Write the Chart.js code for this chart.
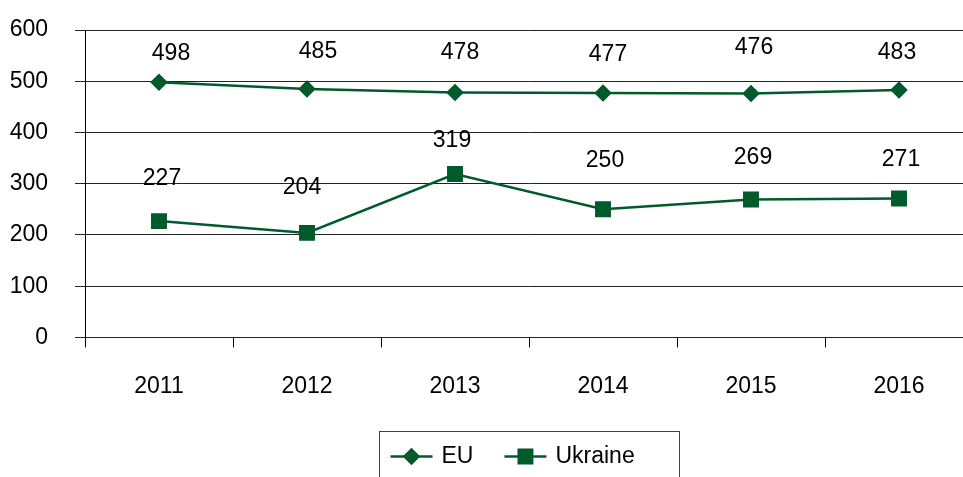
<!DOCTYPE html>
<html>
<head>
<meta charset="utf-8">
<script src="https://cdn.jsdelivr.net/npm/chart.js@4/dist/chart.umd.min.js"></script>
<style>
  html, body { margin: 0; padding: 0; background: #fff; overflow: hidden; }
  #chartBox { width: 963px; height: 477px; overflow: hidden; }
</style>
</head>
<body>
<div id="chartBox">
  <canvas id="lineChart" width="990" height="477"></canvas>
</div>
<script>
const years = ['2011', '2012', '2013', '2014', '2015', '2016'];
const euValues = [498, 485, 478, 477, 476, 483];
const ukraineValues = [227, 204, 319, 250, 269, 271];
const yTicks = [0, 100, 200, 300, 400, 500, 600];

// hand-placed data labels in the original, nudges in px (x, lift above point)
const euLabelNudge = [[12, 29], [11, 37], [5, 40], [5, 38], [3, 46], [-2, 37]];
const ukraineLabelNudge = [[3, 42], [-5, 45], [-3, 33], [2, 49], [2, 42], [2, 39]];

const GREEN = '#005a2b';
const FONT = "'Liberation Sans', Arial, sans-serif";
const FONT_SIZE = 23;

const valueLabels = {
  id: 'valueLabels',
  afterDatasetsDraw(chart) {
    const ctx = chart.ctx;
    ctx.save();
    ctx.font = FONT_SIZE + 'px ' + FONT;
    ctx.fillStyle = '#000';
    ctx.textAlign = 'center';
    ctx.textBaseline = 'middle';
    chart.data.datasets.forEach((ds, i) => {
      const meta = chart.getDatasetMeta(i);
      meta.data.forEach((pt, j) => {
        const [dx, lift] = ds.labelNudge[j];
        ctx.fillText(String(ds.data[j]), pt.x + dx, pt.y - lift);
      });
    });
    ctx.restore();
  }
};

// excel style legend: bordered box under the plot, line + marker samples
const boxedLegend = {
  id: 'boxedLegend',
  afterDraw(chart) {
    const ctx = chart.ctx;
    const area = chart.chartArea;
    const boxW = 300;
    const left = Math.round((area.left + area.right) / 2 - boxW / 2) + 0.5;
    const top = chart.height - 45.5;
    ctx.save();
    ctx.strokeStyle = '#404040';
    ctx.lineWidth = 1;
    ctx.strokeRect(left, top, boxW, 60);

    ctx.font = FONT_SIZE + 'px ' + FONT;
    ctx.textBaseline = 'middle';
    const cy = top + 25;
    let x = left + 11;
    chart.data.datasets.forEach(ds => {
      ctx.strokeStyle = ds.borderColor;
      ctx.lineWidth = ds.borderWidth;
      ctx.beginPath();
      ctx.moveTo(x, cy);
      ctx.lineTo(x + 42, cy);
      ctx.stroke();
      Chart.helpers.drawPoint(ctx, {
        pointStyle: ds.pointStyle,
        radius: ds.pointRadius,
        borderWidth: 1
      }, x + 21, cy);
      ctx.fillStyle = ds.pointBackgroundColor;
      ctx.fill();
      ctx.fillStyle = '#000';
      ctx.textAlign = 'left';
      ctx.fillText(ds.label, x + 51, cy);
      x += 51 + ctx.measureText(ds.label).width + 31;
    });
    ctx.restore();
  }
};

const datasetBase = {
  borderColor: GREEN,
  backgroundColor: GREEN,
  pointBackgroundColor: GREEN,
  pointBorderColor: GREEN,
  borderWidth: 2.5,
  tension: 0,
  fill: false
};

new Chart(document.querySelector('#lineChart'), {
  type: 'line',
  data: {
    labels: years,
    datasets: [
      Object.assign({}, datasetBase, {
        label: 'EU',
        data: euValues,
        pointStyle: 'rectRot',
        pointRadius: 7,
        pointHoverRadius: 7,
        labelNudge: euLabelNudge
      }),
      Object.assign({}, datasetBase, {
        label: 'Ukraine',
        data: ukraineValues,
        pointStyle: 'rect',
        pointRadius: 9.5,
        pointHoverRadius: 9.5,
        labelNudge: ukraineLabelNudge
      })
    ]
  },
  options: {
    responsive: false,
    animation: false,
    layout: { padding: { top: 30, left: 0, right: 17, bottom: 52 } },
    plugins: {
      legend: { display: false },
      tooltip: { enabled: false }
    },
    scales: {
      x: {
        offset: true,
        grid: {
          offset: true,
          drawOnChartArea: false,
          color: '#000',
          tickLength: 10
        },
        border: { display: false },
        ticks: {
          color: '#000',
          padding: 25,
          font: { family: FONT, size: FONT_SIZE }
        }
      },
      y: {
        min: 0,
        max: 600,
        afterBuildTicks(axis) {
          axis.ticks = yTicks.map(v => ({ value: v }));
        },
        afterFit(axis) {
          axis.width = 85;
          axis.paddingTop = 14;
          axis.paddingBottom = 14;
        },
        grid: {
          color: '#222',
          lineWidth: 1,
          tickLength: 10
        },
        border: { display: true, color: '#000', width: 1 },
        ticks: {
          color: '#000',
          padding: 27,
          font: { family: FONT, size: FONT_SIZE }
        }
      }
    }
  },
  plugins: [valueLabels, boxedLegend]
});
</script>
</body>
</html>
